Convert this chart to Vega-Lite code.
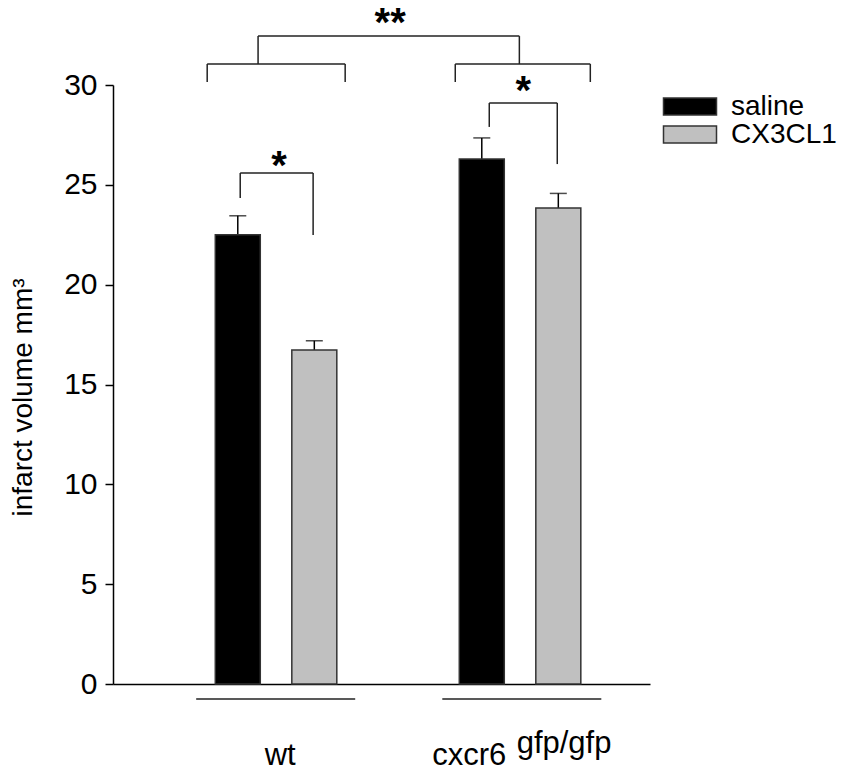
{
  "$schema": "https://vega.github.io/schema/vega-lite/v6.json",
  "width": 537,
  "height": 599,
  "autosize": {"type": "none"},
  "padding": {"left": 113, "top": 85, "right": 200, "bottom": 87},
  "background": "white",
  "config": {
    "view": {"stroke": null},
    "font": "Liberation Sans",
    "axis": {"grid": false}
  },
  "datasets": {
    "bars": [
      {"genotype": "wt", "treatment": "saline", "mean": 22.5, "upper": 23.45},
      {"genotype": "wt", "treatment": "CX3CL1", "mean": 16.73, "upper": 17.19},
      {"genotype": "cxcr6", "treatment": "saline", "mean": 26.29, "upper": 27.35},
      {"genotype": "cxcr6", "treatment": "CX3CL1", "mean": 23.84, "upper": 24.57}
    ],
    "segments": [
      {"x1": 0.928, "x2": 1.996, "y1": 32.45, "y2": 32.45},
      {"x1": 0.928, "x2": 0.928, "y1": 32.45, "y2": 31.05},
      {"x1": 1.996, "x2": 1.996, "y1": 32.45, "y2": 31.05},
      {"x1": 0.72, "x2": 1.284, "y1": 31.05, "y2": 31.05},
      {"x1": 0.72, "x2": 0.72, "y1": 31.05, "y2": 30.15},
      {"x1": 1.284, "x2": 1.284, "y1": 31.05, "y2": 30.15},
      {"x1": 1.734, "x2": 2.286, "y1": 31.05, "y2": 31.05},
      {"x1": 1.734, "x2": 1.734, "y1": 31.05, "y2": 30.15},
      {"x1": 2.286, "x2": 2.286, "y1": 31.05, "y2": 30.15},
      {"x1": 0.855, "x2": 1.153, "y1": 25.59, "y2": 25.59},
      {"x1": 0.855, "x2": 0.855, "y1": 25.59, "y2": 24.34},
      {"x1": 1.153, "x2": 1.153, "y1": 25.59, "y2": 22.49},
      {"x1": 1.873, "x2": 2.151, "y1": 29.1, "y2": 29.1},
      {"x1": 1.873, "x2": 1.873, "y1": 29.1, "y2": 27.9},
      {"x1": 2.151, "x2": 2.151, "y1": 29.1, "y2": 26.04},
      {"x1": 0.675, "x2": 1.325, "y1": -0.75, "y2": -0.75},
      {"x1": 1.681, "x2": 2.331, "y1": -0.75, "y2": -0.75}
    ],
    "stars": [
      {"x": 1.014, "y": 25.3, "label": "*"},
      {"x": 2.012, "y": 29.05, "label": "*"},
      {"x": 1.468, "y": 32.45, "label": "**"}
    ],
    "labels": [
      {"x": 0.955, "y": -4.06, "label": "wt"},
      {"x": 1.64, "y": -4.06, "label": "cxcr6"},
      {"x": 1.985, "y": -3.46, "label": "gfp/gfp"}
    ]
  },
  "layer": [
    {
      "data": {"name": "bars"},
      "encoding": {
        "x": {
          "field": "genotype",
          "type": "nominal",
          "sort": ["wt", "cxcr6"],
          "scale": {"domain": ["wt", "cxcr6"], "paddingInner": 0.344, "paddingOuter": 0.2724, "align": 0.6245},
          "axis": {"labels": false, "ticks": false, "title": null, "domainColor": "black", "domainWidth": 1.5}
        },
        "xOffset": {
          "field": "treatment",
          "type": "nominal",
          "sort": ["saline", "CX3CL1"],
          "scale": {"domain": ["saline", "CX3CL1"], "paddingInner": 0.412, "paddingOuter": 0.2518}
        }
      },
      "layer": [
        {
          "mark": {"type": "rule", "strokeWidth": 1.5, "color": "black"},
          "encoding": {
            "y": {"field": "mean", "type": "quantitative", "title": "infarct volume mm³"},
            "y2": {"field": "upper"}
          }
        },
        {
          "mark": {"type": "tick", "orient": "horizontal", "size": 17, "thickness": 1.5, "color": "black"},
          "encoding": {
            "y": {"field": "upper", "type": "quantitative", "title": "infarct volume mm³"}
          }
        },
        {
          "mark": {"type": "bar", "stroke": "#333333", "strokeWidth": 1.5},
          "encoding": {
            "y": {
              "field": "mean",
              "type": "quantitative",
              "title": "infarct volume mm³",
              "scale": {"domain": [0, 30], "nice": false, "zero": true},
              "axis": {
                "values": [0, 5, 10, 15, 20, 25, 30],
                "labelFontSize": 30,
                "labelFont": "Liberation Sans",
                "labelColor": "black",
                "labelPadding": 8,
                "tickSize": 8,
                "tickColor": "black",
                "tickWidth": 1.5,
                "domainColor": "black",
                "domainWidth": 1.5,
                "titleFontSize": 28,
                "titleFont": "Liberation Sans",
                "titleFontWeight": "normal",
                "titleColor": "black",
                "titlePadding": 26,
                "titleY": 312
              }
            },
            "color": {
              "field": "treatment",
              "type": "nominal",
              "sort": ["saline", "CX3CL1"],
              "scale": {"domain": ["saline", "CX3CL1"], "range": ["#000000", "#c0c0c0"]},
              "legend": {
                "title": null,
                "orient": "none",
                "legendX": 563,
                "legendY": 7.5,
                "padding": 0,
                "symbolType": "M-2.65,-0.85H2.65V0.85H-2.65Z",
                "symbolSize": 400,
                "symbolStrokeColor": "#333333",
                "symbolStrokeWidth": 1.5,
                "symbolOpacity": 1,
                "labelFontSize": 28,
                "labelFont": "Liberation Sans",
                "labelColor": "black",
                "labelOffset": 27,
                "rowPadding": 0
              }
            }
          }
        }
      ]
    },
    {
      "layer": [
        {
          "data": {"name": "segments"},
          "mark": {"type": "rule", "strokeWidth": 1.5, "color": "#222222"},
          "encoding": {
            "x": {"field": "x1", "type": "quantitative", "scale": {"domain": [0.335, 2.53], "nice": false, "zero": false}, "axis": null},
            "x2": {"field": "x2"},
            "y": {"field": "y1", "type": "quantitative", "title": "infarct volume mm³"},
            "y2": {"field": "y2"}
          }
        },
        {
          "data": {"name": "stars"},
          "mark": {"type": "text", "fontSize": 40, "fontWeight": "bold", "font": "Liberation Sans", "align": "center", "baseline": "alphabetic", "color": "black"},
          "encoding": {
            "x": {"field": "x", "type": "quantitative", "axis": null},
            "y": {"field": "y", "type": "quantitative", "title": "infarct volume mm³"},
            "text": {"field": "label"}
          }
        },
        {
          "data": {"name": "labels"},
          "mark": {"type": "text", "fontSize": 31, "font": "Liberation Sans", "align": "left", "baseline": "alphabetic", "color": "black"},
          "encoding": {
            "x": {"field": "x", "type": "quantitative", "axis": null},
            "y": {"field": "y", "type": "quantitative", "title": "infarct volume mm³"},
            "text": {"field": "label"}
          }
        }
      ]
    }
  ],
  "resolve": {"scale": {"x": "independent"}}
}
